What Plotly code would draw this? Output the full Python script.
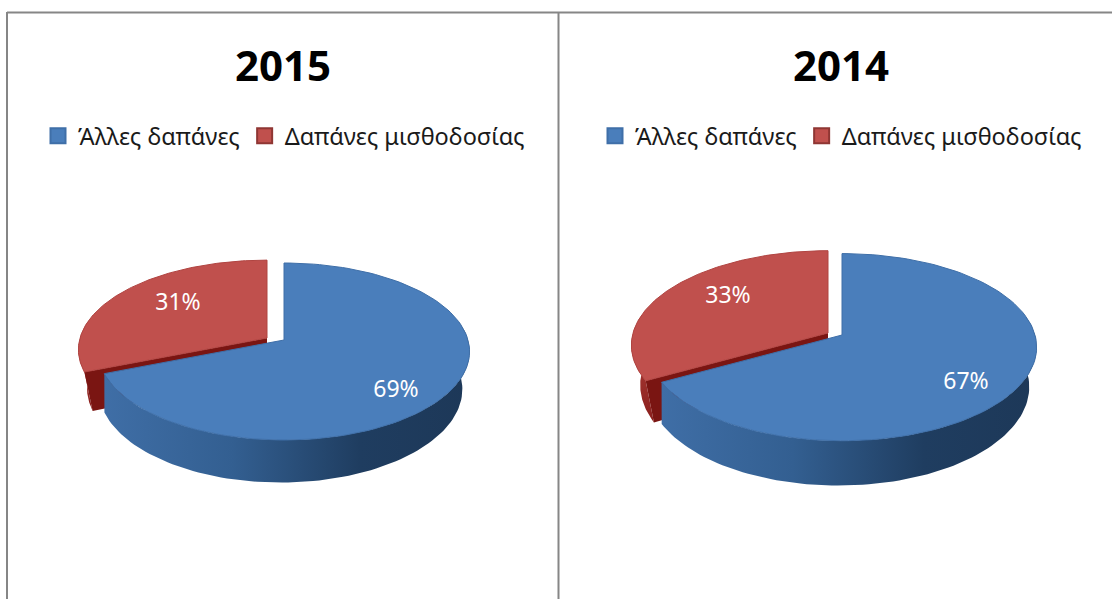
import numpy as np
import plotly.graph_objects as go

YEARS = ["2015", "2014"]
CATEGORIES = ["Άλλες δαπάνες", "Δαπάνες μισθοδοσίας"]
SHARES_2015 = [69, 31]
SHARES_2014 = [67, 33]

W, H = 1112, 599
FONT = "Noto Sans"
K = 0.13  # perspective strength
TOP_COL = ["#4a7ebb", "#c0504d"]
RIM_COL = ["#3f6fa8", "#b04441"]
BLUE_WALL = [[0, "#3f6ea6"], [0.35, "#335f91"], [0.7, "#1f3d60"], [1, "#1d3858"]]
RED_WALL = [[0, "#b64743"], [1, "#8a1f1c"]]
CUT_COL = "#7a1512"

# per-panel geometry in canvas units (shrink/dx describe the lower ring of the disc)
PANELS = [
    dict(values=SHARES_2015, title_x=283, legend_x=38,
         blue=dict(cx=284, cy=340, rx=184, ry=87, d=37, shrink=0.98, dx=-3.5),
         red=dict(cx=267, cy=338, rx=187, ry=88, d=37, shrink=0.955, dx=0),
         lab=[(396, 391), (178, 304)]),
    dict(values=SHARES_2014, title_x=841, legend_x=595,
         blue=dict(cx=842, cy=335, rx=193, ry=92, d=39, shrink=0.98, dx=-3.5),
         red=dict(cx=828, cy=333, rx=195, ry=93, d=39, shrink=0.955, dx=0),
         lab=[(966, 383), (728, 297)]),
]


def project(g, theta, lower=False):
    X = np.sin(theta)
    Y = np.cos(theta)
    s = 1.0 / (1.0 + K * Y)
    if lower:
        return (g["cx"] + g["dx"] + g["shrink"] * g["rx"] * X * s,
                g["cy"] - g["ry"] * Y * s + g["d"] * s)
    return g["cx"] + g["rx"] * X * s, g["cy"] - g["ry"] * Y * s


def sector(g, a, b):
    t = np.linspace(a, b, 120)
    x, y = project(g, t)
    return np.r_[g["cx"], x, g["cx"]], np.r_[g["cy"], y, g["cy"]]


def wall(g, a, b):
    lo, hi = max(a, np.radians(78)), min(b, np.radians(282))
    t = np.linspace(lo, hi, 100)
    xt, yt = project(g, t)
    xb, yb = project(g, t, lower=True)
    return np.r_[xt, xb[::-1], xt[0]], np.r_[yt, yb[::-1], yt[0]]


def poly(x, y, **kw):
    return go.Scatter(x=x, y=y, mode="lines", fill="toself", showlegend=False,
                      hoverinfo="skip", **kw)


fig = go.Figure()

for idx, p in enumerate(PANELS):
    blue_share, red_share = p["values"]
    split = 2 * np.pi * blue_share / (blue_share + red_share)
    blue, red = p["blue"], p["red"]

    # exploded red slice (drawn first: blue overlaps it)
    x, y = wall(red, split, 2 * np.pi)
    fig.add_trace(poly(x, y, line=dict(width=0),
                       fillgradient=dict(type="vertical", colorscale=RED_WALL,
                                         start=float(y.min()), stop=float(y.max()))))
    ex, ey = project(red, split)
    bx, by = project(red, split, lower=True)
    fig.add_trace(poly([red["cx"], ex, bx, red["cx"], red["cx"]],
                       [red["cy"], ey, by, red["cy"] + red["d"], red["cy"]],
                       line=dict(width=0), fillcolor=CUT_COL))
    x, y = sector(red, split, 2 * np.pi)
    fig.add_trace(poly(x, y, line=dict(width=1, color=RIM_COL[1]), fillcolor=TOP_COL[1]))

    # blue slice
    x, y = wall(blue, 0, split)
    fig.add_trace(poly(x, y, line=dict(width=0),
                       fillgradient=dict(type="horizontal", colorscale=BLUE_WALL,
                                         start=float(x.min()), stop=float(x.max()))))
    x, y = sector(blue, 0, split)
    fig.add_trace(poly(x, y, line=dict(width=1, color=RIM_COL[0]), fillcolor=TOP_COL[0]))

    # data labels
    fig.add_trace(go.Scatter(
        x=[q[0] for q in p["lab"]], y=[q[1] for q in p["lab"]], mode="text",
        text=[f"{v}%" for v in p["values"]],
        textposition="middle center",
        textfont=dict(family=FONT, size=23, color="white"),
        showlegend=False, hoverinfo="skip"))

    # legend entries
    lg = "legend" if idx == 0 else "legend2"
    for c, name in enumerate(CATEGORIES):
        fig.add_trace(go.Scatter(
            x=[None], y=[None], mode="markers", name=name, legend=lg,
            marker=dict(symbol="square", size=15, color=TOP_COL[c],
                        line=dict(width=2, color=RIM_COL[c] if c == 0 else "#8f3633")),
            hoverinfo="skip"))

legend_common = dict(orientation="h", yanchor="middle", y=1 - 136 / H, xanchor="left",
                     bgcolor="rgba(0,0,0,0)", font=dict(family=FONT, size=23.5, color="#1a1a1a"),
                     itemwidth=30, traceorder="normal", itemclick=False, itemdoubleclick=False)

fig.update_layout(
    width=W, height=H, margin=dict(l=0, r=0, t=0, b=0),
    paper_bgcolor="white", plot_bgcolor="white",
    xaxis=dict(range=[0, W], visible=False, fixedrange=True),
    yaxis=dict(range=[H, 0], visible=False, fixedrange=True),
    legend=dict(x=PANELS[0]["legend_x"] / W, **legend_common),
    legend2=dict(x=PANELS[1]["legend_x"] / W, **legend_common),
    annotations=[
        dict(x=p["title_x"], y=64, xref="x", yref="y", text=f"<b>{yr}</b>", showarrow=False,
             font=dict(family=FONT, size=42, color="black"))
        for p, yr in zip(PANELS, YEARS)
    ],
    shapes=[
        dict(type="line", x0=7, x1=W, y0=12.5, y1=12.5, xref="x", yref="y",
             line=dict(color="#868686", width=2)),
        dict(type="line", x0=7, x1=7, y0=12, y1=H, xref="x", yref="y",
             line=dict(color="#868686", width=2)),
        dict(type="line", x0=558.5, x1=558.5, y0=12, y1=H, xref="x", yref="y",
             line=dict(color="#868686", width=2)),
    ],
)

fig.write_html("out.html", config={"displayModeBar": False},
               post_script="document.body.style.margin='0';document.body.style.overflow='hidden';")
